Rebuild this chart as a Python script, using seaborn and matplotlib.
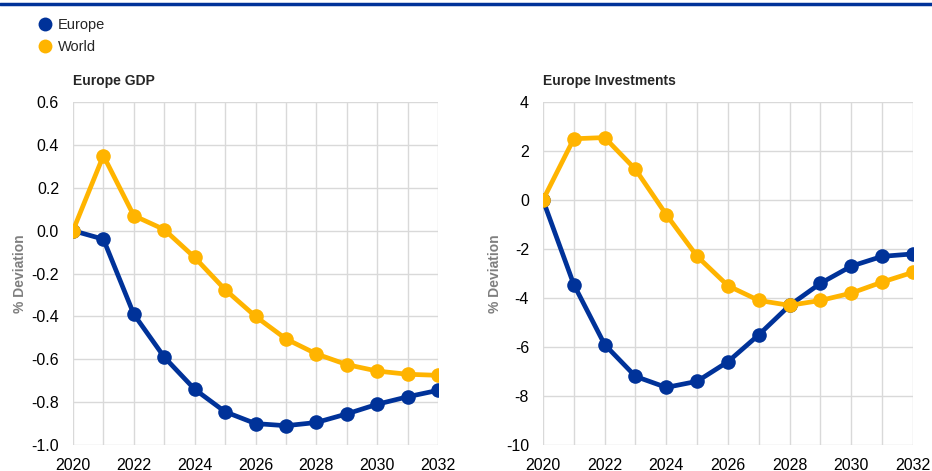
import seaborn as sns
from matplotlib import pyplot as plt
from matplotlib.lines import Line2D
import pandas as pd

# chart data
years = list(range(2020, 2033))
gdp_europe = [0, -0.04, -0.39, -0.59, -0.74, -0.845, -0.90, -0.91, -0.895, -0.855, -0.81, -0.775, -0.745]
gdp_world = [0, 0.35, 0.07, 0.005, -0.125, -0.275, -0.40, -0.505, -0.575, -0.625, -0.655, -0.67, -0.675]
inv_europe = [0, -3.45, -5.9, -7.2, -7.65, -7.4, -6.6, -5.5, -4.3, -3.4, -2.7, -2.3, -2.2]
inv_world = [0, 2.5, 2.55, 1.25, -0.6, -2.3, -3.5, -4.1, -4.3, -4.1, -3.8, -3.35, -2.95]
series_names = ["Europe", "World"]
colors = {"Europe": "#003299", "World": "#FFB400"}

sns.set_style("whitegrid")
plt.rcParams['font.family'] = ['Liberation Sans', 'DejaVu Sans']

def to_long(europe, world):
    #long-form frame for seaborn
    return pd.DataFrame({
        "year": years * 2,
        "value": europe + world,
        "series": ["Europe"] * len(years) + ["World"] * len(years),
    })

fig = plt.figure(figsize=(9.32, 4.71), dpi=100)
ax1 = fig.add_axes([0.0783, 0.0552, 0.3917, 0.7282])
ax2 = fig.add_axes([0.5826, 0.0552, 0.397, 0.7282])

panels = [
    (ax1, to_long(gdp_europe, gdp_world), "Europe GDP", (-1.0, 0.6), [-1.0, -0.8, -0.6, -0.4, -0.2, 0.0, 0.2, 0.4, 0.6], "{:.1f}"),
    (ax2, to_long(inv_europe, inv_world), "Europe Investments", (-10, 4), [-10, -8, -6, -4, -2, 0, 2, 4], "{:.0f}"),
]

for ax, df, title, ylim, yticks, fmt in panels:
    sns.lineplot(data=df, x="year", y="value", hue="series", hue_order=series_names,
                 palette=colors, marker="o", markersize=10.5, markeredgewidth=0,
                 linewidth=3.4, ax=ax, legend=False)
    ax.set_xlim(2020, 2032)
    ax.set_ylim(*ylim)
    ax.set_xticks(years, minor=True)
    ax.set_xticks(list(range(2020, 2033, 2)))
    ax.set_xticklabels([str(y) for y in range(2020, 2033, 2)])
    ax.set_yticks(yticks)
    ax.set_yticklabels([fmt.format(v) for v in yticks])
    ax.grid(True, which="both", color="#d9d9d9", linewidth=1)
    ax.tick_params(axis="both", which="both", length=0, labelsize=11.5, colors="#000000")
    ax.tick_params(axis="y", pad=10)
    ax.tick_params(axis="x", pad=9)
    for s in ax.spines.values():
        s.set_visible(False)
    ax.set_xlabel("")
    ax.set_ylabel("% Deviation", fontsize=10, fontweight="bold", color="#7f7f7f", labelpad=3)
    ax.set_title(title, loc="left", fontsize=10, fontweight="bold", pad=12)

# top rule
fig.add_artist(Line2D([0, 1], [0.992, 0.992], color="#003299", linewidth=2.5, transform=fig.transFigure))

handles = [Line2D([], [], marker="o", linestyle="", markersize=10, markeredgewidth=0,
                  color=colors[n]) for n in series_names]
fig.legend(handles, series_names, loc="upper left", bbox_to_anchor=(0.042, 0.962),
           frameon=False, fontsize=10.5, handlelength=0.8, handletextpad=0.5,
           labelspacing=0.55, borderaxespad=0, borderpad=0)

fig.savefig("out.png", dpi=100)
